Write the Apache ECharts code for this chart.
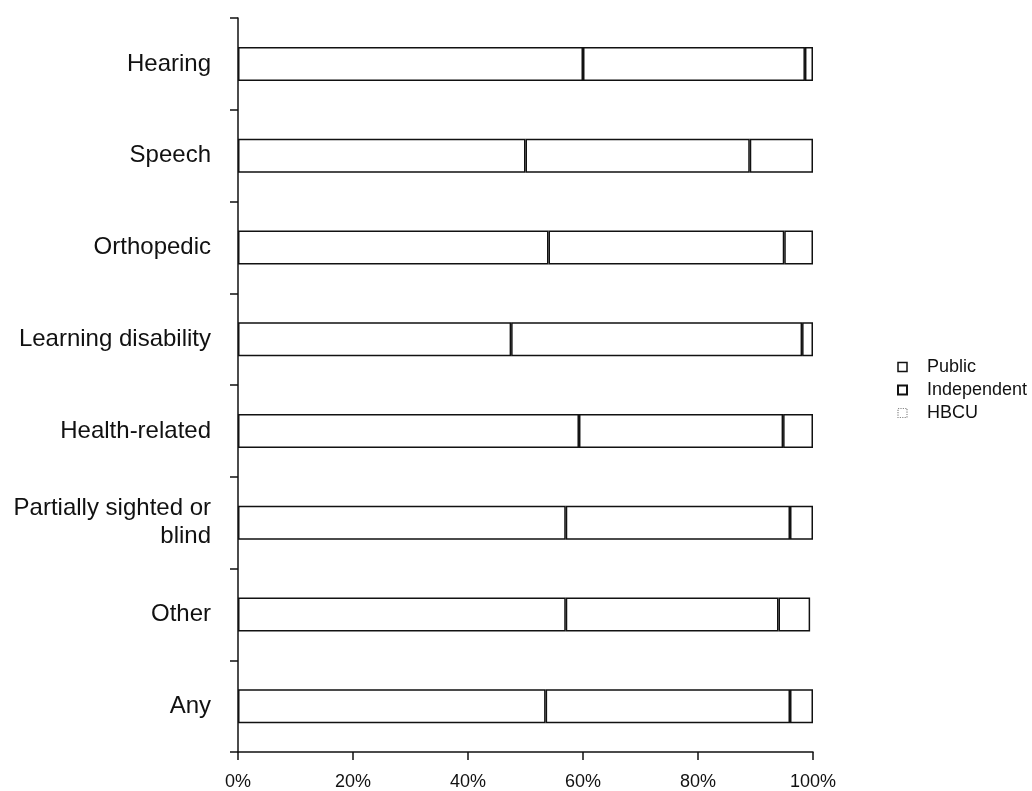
<!DOCTYPE html>
<html>
<head>
<meta charset="utf-8">
<script src="https://cdn.jsdelivr.net/npm/echarts@6/dist/echarts.min.js"></script>
<style>html,body{margin:0;padding:0;background:#fff;}#c{width:1032px;height:791px;}</style>
</head>
<body>
<div id="c"></div>
<script>
const categories = ['Hearing','Speech','Orthopedic','Learning disability','Health-related','Partially sighted or\nblind','Other','Any'];
const publicVals = [60, 50, 54, 47.5, 59.3, 57, 57, 53.5];
const independentVals = [38.6, 39, 41, 50.6, 35.5, 39, 37, 42.5];
const hbcuVals = [1.4, 11, 5, 1.9, 5.2, 4, 5.5, 4];
const xTicks = [0, 20, 40, 60, 80, 100];
const legendNames = ['Public','Independent','HBCU'];

const FONT = 'Liberation Sans, Arial, Helvetica, sans-serif';
const chart = echarts.init(document.getElementById('c'));
const barStyle = {color:'#ffffff', borderColor:'#111', borderWidth:1.5};
function mk(name, data){
  return {name, type:'bar', stack:'total', data, barWidth:34, itemStyle:barStyle, emphasis:{disabled:true}, animation:false};
}
chart.setOption({
  animation:false,
  backgroundColor:'#ffffff',
  grid:{left:238, right:219, top:18, bottom:33, containLabel:false},
  legend:{
    orient:'vertical', left:892, top:353, itemWidth:9, itemHeight:9, itemGap:5, icon:'rect',
    textStyle:{fontFamily:FONT, fontSize:18, color:'#111', padding:[0,0,0,15]},
    itemStyle:{color:'#fff', borderColor:'#111', borderWidth:1.5},
    data:[
      {name:legendNames[0]},
      {name:legendNames[1], itemStyle:{borderWidth:2}},
      {name:legendNames[2], itemStyle:{borderColor:'#888', borderType:'dotted', borderWidth:1.2}}
    ]
  },
  xAxis:{
    type:'value', min:0, max:100, interval:20,
    axisLine:{show:true, lineStyle:{color:'#111', width:1.5}},
    axisTick:{show:true, length:8, lineStyle:{color:'#111', width:1.5}},
    splitLine:{show:false},
    axisLabel:{formatter:function(v){return xTicks.indexOf(v)>=0? v+'%':'';}, margin:21, fontSize:18, color:'#111', fontFamily:FONT}
  },
  yAxis:{
    type:'category', data:categories, inverse:true,
    axisLine:{show:true, lineStyle:{color:'#111', width:1.5}},
    axisTick:{show:true, length:8, lineStyle:{color:'#111', width:1.5}},
    axisLabel:{fontSize:24, color:'#111', margin:27, align:'right', lineHeight:28, fontFamily:FONT}
  },
  series:[mk('Public', publicVals), mk('Independent', independentVals), mk('HBCU', hbcuVals)]
});
</script>
</body>
</html>
